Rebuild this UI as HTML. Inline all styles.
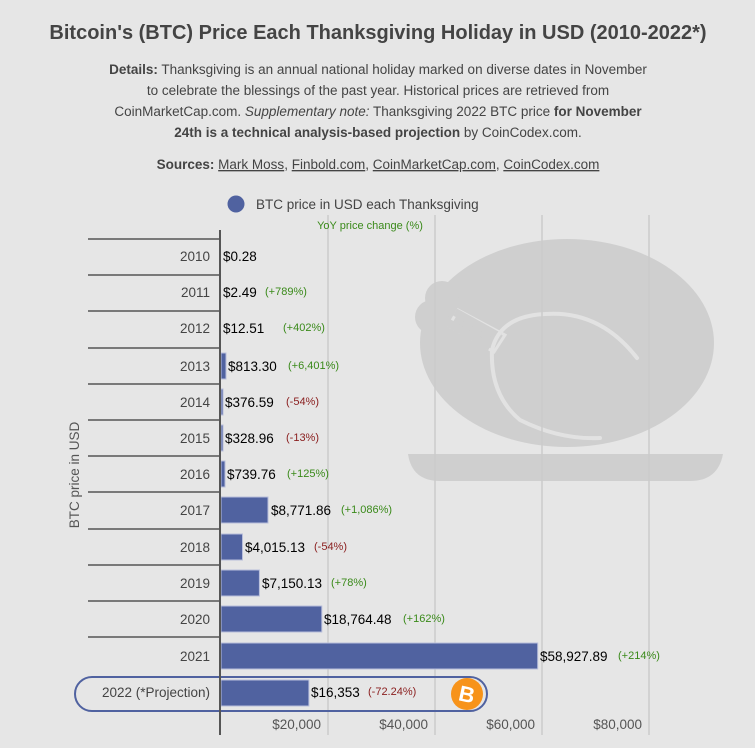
<!DOCTYPE html>
<html><head><meta charset="utf-8"><style>
body{margin:0;background:#e6e6e6;}
svg{display:block;font-family:"Liberation Sans","DejaVu Sans",sans-serif;}
</style></head><body>
<svg width="755" height="748" viewBox="0 0 755 748">
<rect width="755" height="748" fill="#e6e6e6"/>
<text x="378" y="39" text-anchor="middle" font-size="20" font-weight="bold" fill="#444">Bitcoin's (BTC) Price Each Thanksgiving Holiday in USD (2010-2022*)</text>
<g font-size="13.5" fill="#444" text-anchor="middle">
<text x="378" y="74"><tspan font-weight="bold">Details:</tspan> Thanksgiving is an annual national holiday marked on diverse dates in November</text>
<text x="378" y="95">to celebrate the blessings of the past year. Historical prices are retrieved from</text>
<text x="378" y="116">CoinMarketCap.com. <tspan font-style="italic">Supplementary note:</tspan> Thanksgiving 2022 BTC price <tspan font-weight="bold">for November</tspan></text>
<text x="378" y="137"><tspan font-weight="bold">24th is a technical analysis-based projection</tspan> by CoinCodex.com.</text>
<text x="378" y="169"><tspan font-weight="bold">Sources:</tspan> <tspan text-decoration="underline">Mark Moss</tspan>, <tspan text-decoration="underline">Finbold.com</tspan>, <tspan text-decoration="underline">CoinMarketCap.com</tspan>, <tspan text-decoration="underline">CoinCodex.com</tspan></text>
</g>
<circle cx="236" cy="204" r="8.5" fill="#5062a0"/>
<text x="256" y="209" font-size="13.5" fill="#444">BTC price in USD each Thanksgiving</text>
<!-- turkey -->
<g fill="#cfcfcf">
<ellipse cx="567" cy="343" rx="147" ry="104"/>
<path d="M458 310 L505 335 L494 352 L449 326Z" stroke="#e2e2e2" stroke-width="3"/>
<circle cx="442" cy="298" r="17"/><circle cx="432" cy="317" r="17"/>
<path d="M408 454 H723 Q718 481 690 481 H440 Q412 481 408 454Z"/>
</g>
<path d="M455 312 L500 337 M447 322 L490 347" stroke="#cfcfcf" stroke-width="8"/>
<path d="M637 358 Q600 310 545 314 Q500 316 492 350 Q490 395 520 420 Q560 440 600 438" fill="none" stroke="#e2e2e2" stroke-width="4" stroke-linecap="round"/>
<g stroke="#cbcbcb" stroke-width="1.5">
<line x1="328" y1="215" x2="328" y2="735"/><line x1="435" y1="215" x2="435" y2="735"/><line x1="542" y1="215" x2="542" y2="735"/><line x1="649" y1="215" x2="649" y2="735"/>
</g>
<text x="370" y="229" font-size="11" fill="#3a8a1a" text-anchor="middle">YoY price change (%)</text>
<g stroke="#555" stroke-width="1.5">
<line x1="88" y1="239" x2="220" y2="239"/><line x1="88" y1="275" x2="220" y2="275"/><line x1="88" y1="311" x2="220" y2="311"/><line x1="88" y1="348" x2="220" y2="348"/><line x1="88" y1="384" x2="220" y2="384"/><line x1="88" y1="420" x2="220" y2="420"/><line x1="88" y1="456" x2="220" y2="456"/><line x1="88" y1="492" x2="220" y2="492"/><line x1="88" y1="529" x2="220" y2="529"/><line x1="88" y1="565" x2="220" y2="565"/><line x1="88" y1="601" x2="220" y2="601"/><line x1="88" y1="637" x2="220" y2="637"/>
</g>
<g fill="#5062a0" stroke="#b8bedb" stroke-width="1">
<rect x="221" y="353" width="5" height="26"/><rect x="221" y="389" width="2" height="26"/><rect x="221" y="425" width="2" height="26"/><rect x="221" y="461" width="4" height="26"/>
<rect x="221" y="497" width="47" height="26"/><rect x="221" y="534" width="21.5" height="26"/><rect x="221" y="570" width="38.4" height="26"/><rect x="221" y="606" width="100.8" height="26"/><rect x="221" y="643" width="316.7" height="26"/><rect x="221" y="680" width="87.9" height="26"/>
</g>
<rect x="75" y="677" width="412" height="34" rx="17" fill="none" stroke="#5062a0" stroke-width="2"/>
<circle cx="467" cy="694" r="16" fill="#f7931a"/>
<text x="467" y="702" font-size="22" font-weight="bold" fill="#fff" text-anchor="middle" transform="rotate(12 467 694)">B</text>
<line x1="220" y1="230" x2="220" y2="735" stroke="#555" stroke-width="2"/>
<g font-size="13.5" fill="#444" text-anchor="end">
<text x="210" y="261">2010</text><text x="210" y="297">2011</text><text x="210" y="333">2012</text><text x="210" y="371">2013</text><text x="210" y="407">2014</text><text x="210" y="443">2015</text><text x="210" y="479">2016</text><text x="210" y="515">2017</text><text x="210" y="552">2018</text><text x="210" y="588">2019</text><text x="210" y="624">2020</text><text x="210" y="661">2021</text><text x="210" y="697">2022 (*Projection)</text>
</g>
<g font-size="13.5" fill="#000">
<text x="223" y="261">$0.28</text><text x="223" y="297">$2.49</text><text x="223" y="333">$12.51</text><text x="228" y="371">$813.30</text><text x="225" y="407">$376.59</text><text x="225" y="443">$328.96</text><text x="227" y="479">$739.76</text><text x="271" y="515">$8,771.86</text><text x="245" y="552">$4,015.13</text><text x="262" y="588">$7,150.13</text><text x="324" y="624">$18,764.48</text><text x="540" y="661">$58,927.89</text><text x="311" y="697">$16,353</text>
</g>
<g font-size="11">
<text x="265" y="295" fill="#3a8a1a">(+789%)</text><text x="283" y="331" fill="#3a8a1a">(+402%)</text><text x="288" y="369" fill="#3a8a1a">(+6,401%)</text><text x="286" y="405" fill="#8b2020">(-54%)</text><text x="286" y="441" fill="#8b2020">(-13%)</text><text x="287" y="477" fill="#3a8a1a">(+125%)</text><text x="341" y="513" fill="#3a8a1a">(+1,086%)</text><text x="314" y="550" fill="#8b2020">(-54%)</text><text x="331" y="586" fill="#3a8a1a">(+78%)</text><text x="403" y="622" fill="#3a8a1a">(+162%)</text><text x="618" y="659" fill="#3a8a1a">(+214%)</text><text x="368" y="695" fill="#8b2020">(-72.24%)</text>
</g>
<g font-size="13.5" fill="#555" text-anchor="end">
<text x="321" y="729">$20,000</text><text x="428" y="729">$40,000</text><text x="535" y="729">$60,000</text><text x="642" y="729">$80,000</text>
</g>
<text transform="translate(79 475) rotate(-90)" font-size="13.5" fill="#555" text-anchor="middle">BTC price in USD</text>
</svg>
</body></html>
